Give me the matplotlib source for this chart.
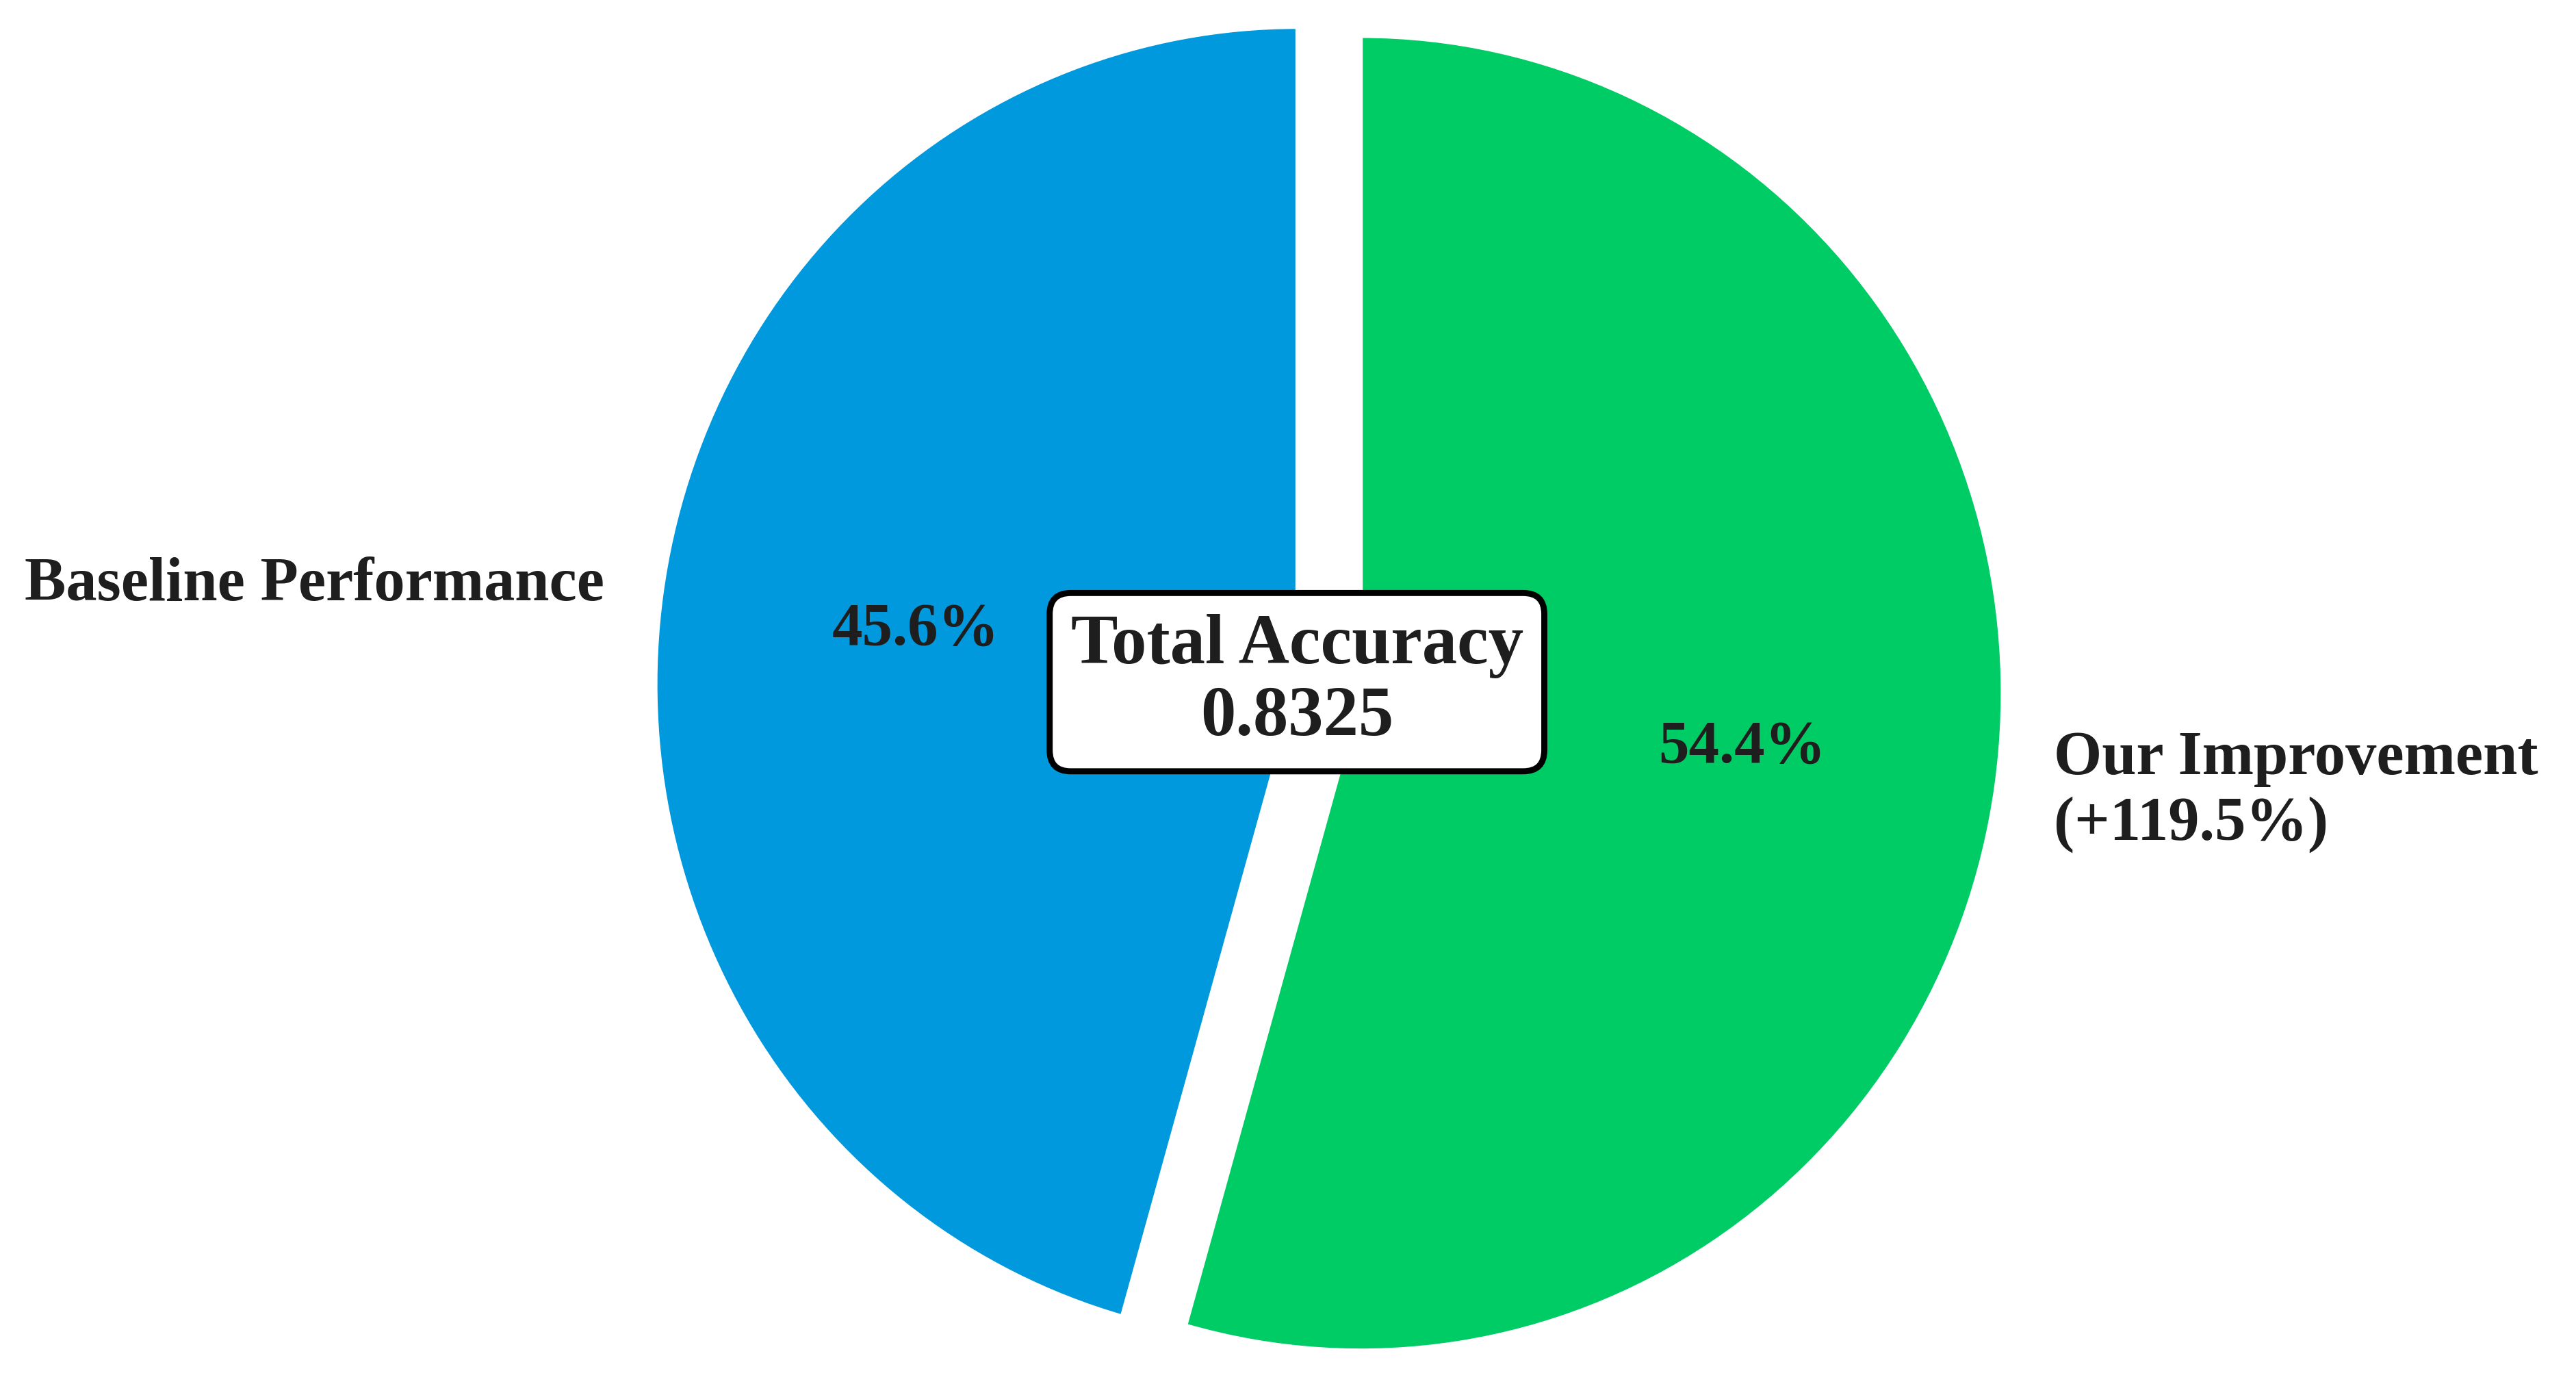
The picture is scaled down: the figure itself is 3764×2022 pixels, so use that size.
import matplotlib.pyplot as plt

# data
labels = ["Baseline Performance", "Our Improvement\n(+119.5%)"]
values = [0.3796, 0.4529]
colors = ["#0099DD", "#00CC66"]
total = 0.8325

plt.rcParams['font.family'] = ['Liberation Serif', 'DejaVu Serif']
plt.rcParams['font.weight'] = 'bold'

fig = plt.figure(figsize=(9.41, 5.055), dpi=400)
ax = fig.add_axes([0, 0, 1, 1])

wedges, texts, autotexts = ax.pie(values, labels=labels, colors=colors,
                                  explode=(0.05, 0.05), startangle=90,
                                  autopct='%1.1f%%', pctdistance=0.6,
                                  labeldistance=1.09,
                                  wedgeprops=dict(edgecolor='white', linewidth=1),
                                  textprops=dict(fontsize=16.3, fontweight='bold', color='#1e1e1e'))
for t in autotexts:
    t.set_fontsize(16)

ax.text(-0.05, 0.01, "Total Accuracy\n%.4f" % total, ha='center', va='center',
        fontsize=18.5, fontweight='bold', color='#1e1e1e', linespacing=1.15,
        bbox=dict(boxstyle='round,pad=0.3', facecolor='white', edgecolor='black', linewidth=1.6))

# reference is slightly squeezed horizontally
ax.set_xlim(-2.071, 1.943)
ax.set_ylim(-1.058, 1.048)
ax.set_aspect('auto')
ax.axis('off')

fig.savefig("out.png", dpi=400)
